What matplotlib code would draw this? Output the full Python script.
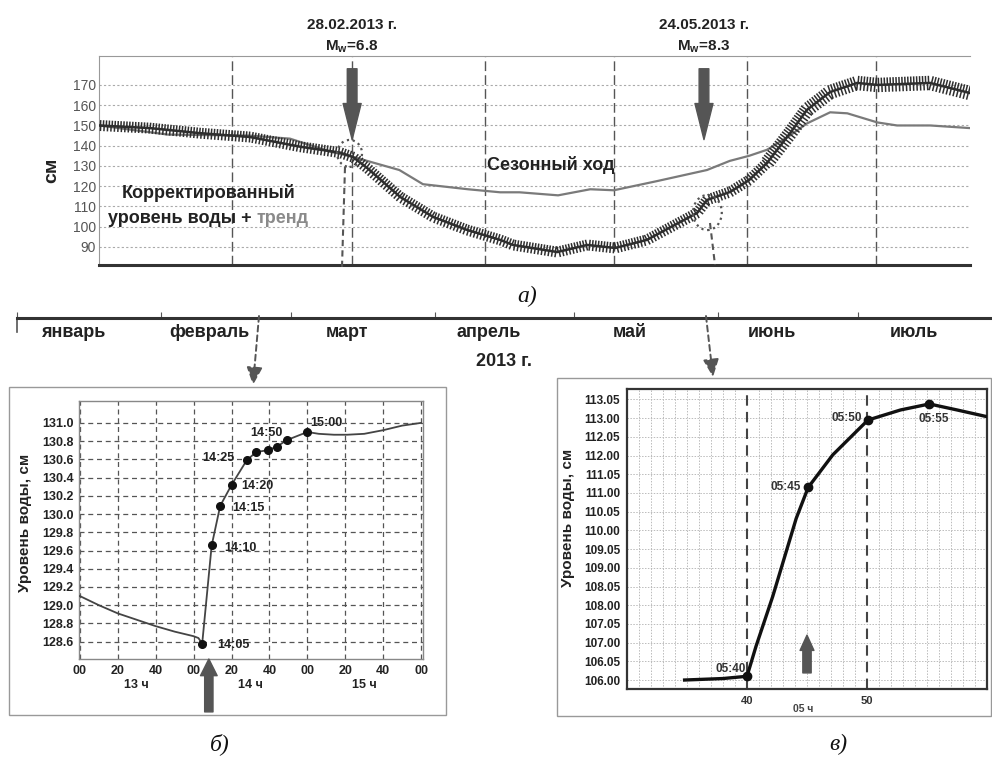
import numpy as np
import matplotlib
matplotlib.use('Agg')
import matplotlib.pyplot as plt
from matplotlib import patheffects as pe
from matplotlib.patches import Ellipse, Rectangle
from matplotlib.transforms import blended_transform_factory

plt.rcParams['font.family'] = ['Liberation Sans', 'DejaVu Sans']

# ---------------- data ----------------
# (а) годовой ход, x = день от 1 января 2013
season_day = [0, 16, 35, 44.5, 54, 59, 70, 75.5, 86, 93.5, 98, 107, 114.5, 120, 130,
              141.7, 147, 151.5, 155.7, 161, 165, 170.4, 174.4, 181.4, 186, 193.7, 203]
season_lvl = [150, 145.5, 145, 143.5, 137, 134.6, 128, 121, 118.5, 117, 117, 115.5, 118.5, 118, 122.5,
              128, 132.5, 135, 138, 145, 151, 156.5, 156, 151.5, 150, 150, 148.7]

corr_day = [0, 11.9, 23.5, 35.2, 46.9, 56.2, 59.2, 62.5, 70.2, 77.9, 85.8, 93.5, 96.5, 106.8,
            113.8, 120.3, 127.7, 139.4, 141.7, 147.1, 151.5, 155.7, 161.1, 165, 170.4, 176.7,
            181.4, 193.7, 203]
corr_lvl = [150, 148.7, 146.2, 144.3, 139.5, 136.6, 134.4, 129, 114.7, 104.8, 98.4, 93.5, 91, 87.5,
            91, 89.5, 93.5, 106.8, 113.2, 117.2, 123, 131.5, 146.3, 157.7, 166.5, 171,
            170, 171, 166]

month_names = ['январь', 'февраль', 'март', 'апрель', 'май', 'июнь', 'июль']
month_start = [0, 31, 59, 90, 120, 151, 181, 212]

events = [(59, '28.02.2013 г.', '6.8'), (141, '24.05.2013 г.', '8.3')]

# (б) 28.02.2013, минуты от 13:00
bl_min = [0, 10, 20, 30, 40, 50, 60, 62.5, 64.5, 69.5, 74, 80, 88, 93, 99, 104, 109, 120,
          126, 134, 141, 150, 160, 170, 180]
bl_lvl = [129.1, 129.0, 128.91, 128.84, 128.77, 128.71, 128.66, 128.64, 128.58, 129.655, 130.09,
          130.32, 130.59, 130.68, 130.70, 130.74, 130.81, 130.90, 130.88, 130.87, 130.87, 130.88,
          130.92, 130.97, 131.0]
bl_marked = [8, 9, 10, 11, 12, 13, 14, 15, 16, 17]
bl_labels = {8: '14:05', 9: '14:10', 10: '14:15', 11: '14:20', 12: '14:25', 16: '14:50', 17: '15:00'}
bl_xticklabels = ['00', '20', '40', '00', '20', '40', '00', '20', '40', '00']
bl_hours = ['13 ч', '14 ч', '15 ч']

# (в) 24.05.2013, минуты после 05:00
br_min = [34.8, 38, 40, 40.75, 42.14, 44.1, 45.1, 47.15, 49.1, 50.08, 52.8, 55.2, 57.5, 60]
br_lvl = [106.0, 106.04, 106.1, 106.9, 108.23, 110.32, 111.15, 112.02, 112.64, 112.95, 113.22,
          113.38, 113.22, 113.04]
br_marked = [2, 6, 9, 11]
br_labels = {2: '05:40', 6: '05:45', 9: '05:50', 11: '05:55'}
br_yticklabels = ['106.00', '106.05', '107.00', '107.05', '108.00', '108.05', '109.00', '109.05',
                  '110.00', '110.05', '111.00', '111.05', '112.00', '112.05', '113.00', '113.05']

# ---------------- layout ----------------
W, H = 992, 758
fig = plt.figure(figsize=(W / 100, H / 100), dpi=100, facecolor='white')


def px_rect(x0, y0, x1, y1):
    return [x0 / W, 1 - y1 / H, (x1 - x0) / W, (y1 - y0) / H]


def tide_band(length, col):
    # приливные колебания рисуются как штрихи вдоль линии
    return [pe.TickedStroke(angle=90, spacing=2.1, length=length, linewidth=1.1, foreground=col),
            pe.TickedStroke(angle=-90, spacing=2.5, length=length * 0.85, linewidth=1.1, foreground=col),
            pe.Normal()]


dark = '#333333'
mid = '#555555'

# ---------------- (а) ----------------
ax = fig.add_axes(px_rect(99, 56, 970, 265))
ax.set_xlim(0, 203)
ax.set_ylim(81.1, 184.3)
ax.set_xticks([])
ax.set_yticks(np.arange(90, 171, 10))
ax.tick_params(axis='y', length=0, pad=2, labelsize=10, labelcolor=mid)
ax.yaxis.grid(True, linestyle=(0, (2, 2)), color='#aaaaaa', lw=0.8)
for d in month_start[1:7]:
    ax.axvline(d, color=mid, lw=1.0, ls=(0, (7, 3)), zorder=1)
ax.spines['right'].set_visible(False)
ax.spines['top'].set_color('#999999')
ax.spines['top'].set_linewidth(0.8)
ax.spines['left'].set_color('#999999')
ax.spines['bottom'].set_color(dark)
ax.spines['bottom'].set_linewidth(2.2)

ax.plot(season_day, season_lvl, color='#7a7a7a', lw=1.6, zorder=3)
tick_col = '#2e2e2e'
split = 21
ax.plot(corr_day[:split + 1], corr_lvl[:split + 1], color=tick_col, lw=1.8, zorder=4,
        path_effects=tide_band(1.6, tick_col))
ax.plot(corr_day[split:], corr_lvl[split:], color=tick_col, lw=1.8, zorder=4,
        path_effects=tide_band(2.2, tick_col))

ax.add_patch(Ellipse((58.4, 136.2), 5.8, 13.3, fill=False, ls=':', lw=1.6, ec=mid, zorder=5))
ax.add_patch(Ellipse((141.8, 107.0), 6.7, 17.3, fill=False, ls=':', lw=1.6, ec=mid, zorder=5))

trans = blended_transform_factory(ax.transData, ax.transAxes)
for day, date, mw in events:
    ax.text(day, 1.148, date, transform=trans, ha='center', va='center',
            fontsize=11, fontweight='bold', color='#222222')
    ax.text(day, 1.043, 'M$_{\\mathregular{w}}$=' + mw, transform=trans, ha='center', va='center',
            fontsize=11, fontweight='bold', color='#222222')
    ax.annotate('', xy=(day, 143), xytext=(day, 178),
                arrowprops=dict(arrowstyle='simple,head_length=26,head_width=13,tail_width=7',
                                mutation_scale=1, fc=mid, ec=mid, shrinkA=0, shrinkB=0), zorder=6)

ax.text(90.5, 130.5, 'Сезонный ход', fontsize=13, fontweight='bold', color='#222222',
        va='center', ha='left', zorder=6)
ax.text(5.4, 116.7, 'Корректированный', fontsize=13, fontweight='bold', color='#222222',
        va='center', ha='left', zorder=6)
t1 = ax.text(2.1, 104.3, 'уровень воды + ', fontsize=13, fontweight='bold', color='#222222',
             va='center', ha='left', zorder=6)
ax.annotate('тренд', xycoords=t1, xy=(1, 0), va='bottom', ha='left', fontsize=13,
            fontweight='bold', color='#8a8a8a', zorder=6)
ax.text(-0.054, 0.455, 'см', transform=ax.transAxes, rotation=90, ha='center', va='center',
        fontsize=14, fontweight='bold', color='#222222')

# ось месяцев
axm = fig.add_axes(px_rect(17, 318, 992, 332))
axm.patch.set_visible(False)
axm.set_xlim(0, 209.9)
axm.set_ylim(0, 1)
axm.set_yticks([])
axm.xaxis.tick_top()
axm.set_xticks(month_start[:7])
axm.tick_params(axis='x', direction='out', length=4, color=mid, labeltop=False)
for s in ['bottom', 'right']:
    axm.spines[s].set_visible(False)
axm.spines['top'].set_linewidth(2.2)
axm.spines['top'].set_color(dark)
axm.spines['left'].set_color(mid)
axm.spines['left'].set_linewidth(1.2)
tm = blended_transform_factory(axm.transData, axm.transAxes)
for i, name in enumerate(month_names):
    centre = (month_start[i] + month_start[i + 1]) / 2 - 3.5
    axm.text(centre, -0.07, name, transform=tm, ha='center', va='center',
             fontsize=13, fontweight='bold', color='#222222')
axm.text(104.8, -2.1, '2013 г.', transform=tm, ha='center', va='center',
         fontsize=13, fontweight='bold', color='#222222')

# ---------------- (б) ----------------
axl = fig.add_axes(px_rect(79, 401, 423, 659))
axl.set_xlim(-0.5, 181)
axl.set_ylim(128.41, 131.24)
axl.set_xticks(np.arange(0, 181, 20))
axl.set_xticklabels(bl_xticklabels)
axl.set_yticks(np.arange(128.6, 131.01, 0.2))
axl.set_yticklabels(['%.1f' % v for v in np.arange(128.6, 131.01, 0.2)])
axl.tick_params(length=0, labelsize=9, labelcolor='#222222', pad=4)
for lab in axl.get_xticklabels() + axl.get_yticklabels():
    lab.set_fontweight('bold')
axl.grid(True, ls=(0, (4, 3)), color=mid, lw=0.9)
for s in axl.spines.values():
    s.set_color('#888888')
    s.set_linewidth(1.0)
axl.plot(bl_min, bl_lvl, color='#444444', lw=1.3, marker='o', ms=5.5,
         mfc='#111111', mec='#111111', markevery=bl_marked, zorder=4)
bl_off = {8: (11, -1, 'left'), 9: (9, -2, 'left'), 10: (9, -1.5, 'left'), 11: (7, -1, 'left'),
          12: (-9, 1.5, 'right'), 16: (-3, 5, 'right'), 17: (2, 6.5, 'left')}
for i, txt in bl_labels.items():
    dx, dy, ha = bl_off[i]
    axl.annotate(txt, xy=(bl_min[i], bl_lvl[i]), xytext=(dx, dy), textcoords='offset points',
                 ha=ha, va='center', fontsize=9, fontweight='bold', color='#222222', zorder=5)
tl = blended_transform_factory(axl.transData, axl.transAxes)
for i, h in enumerate(bl_hours):
    axl.text(30 + 60 * i, -0.10, h, transform=tl, ha='center', va='center',
             fontsize=9, fontweight='bold', color='#222222')
axl.text(-0.157, 0.527, 'Уровень воды, см', transform=axl.transAxes, rotation=90,
         ha='center', va='center', fontsize=11, fontweight='bold', color='#222222')
axl.annotate('', xy=(68, 0), xycoords=tl, xytext=(68, -0.205), textcoords=tl,
             arrowprops=dict(arrowstyle='simple,head_length=12,head_width=12,tail_width=6',
                             mutation_scale=1, fc=mid, ec=mid, shrinkA=0, shrinkB=0),
             annotation_clip=False)

# ---------------- (в) ----------------
axr = fig.add_axes(px_rect(627, 389, 987, 689))
axr.set_xlim(30, 60)
axr.set_ylim(105.76, 113.78)
axr.set_xticks([40, 50])
axr.set_xticks(np.arange(30, 61, 1), minor=True)
axr.set_yticks(np.arange(106, 113.51, 0.5))
axr.set_yticklabels(br_yticklabels)
axr.tick_params(which='both', length=0)
axr.tick_params(axis='y', labelsize=8.5, labelcolor='#222222', pad=5)
axr.tick_params(axis='x', labelsize=8, labelcolor=dark, pad=5)
for lab in axr.get_xticklabels() + axr.get_yticklabels():
    lab.set_fontweight('bold')
axr.xaxis.grid(True, which='minor', ls=(0, (1.5, 1.5)), color='#bbbbbb', lw=0.7)
axr.yaxis.grid(True, which='major', ls=(0, (1.5, 1.5)), color='#bbbbbb', lw=0.7)
for v in [40, 50]:
    axr.axvline(v, color='#444444', lw=1.5, ls=(0, (5, 3)), zorder=2)
for s in axr.spines.values():
    s.set_color(dark)
    s.set_linewidth(1.6)
axr.plot(br_min, br_lvl, color='#111111', lw=2.4, marker='o', ms=6,
         mfc='#111111', mec='#111111', markevery=br_marked, zorder=4)
br_off = {2: (-1, 5, 'right', 'center'), 6: (-5, 0, 'right', 'center'),
          9: (-4, 1.5, 'right', 'center'), 11: (3, -11, 'center', 'center')}
for i, txt in br_labels.items():
    dx, dy, ha, va = br_off[i]
    axr.annotate(txt, xy=(br_min[i], br_lvl[i]), xytext=(dx, dy), textcoords='offset points',
                 ha=ha, va=va, fontsize=8.5, fontweight='bold', color=dark, zorder=5)
axr.text(0.489, -0.067, '05 ч', transform=axr.transAxes, ha='center', va='center',
         fontsize=7.5, fontweight='bold', color='#444444')
axr.text(-0.164, 0.57, 'Уровень воды, см', transform=axr.transAxes, rotation=90,
         ha='center', va='center', fontsize=11, fontweight='bold', color='#222222')
axr.annotate('', xy=(45, 107.2), xytext=(45, 106.19),
             arrowprops=dict(arrowstyle='simple,head_length=11,head_width=10,tail_width=6',
                             mutation_scale=1, fc=mid, ec=mid, shrinkA=0, shrinkB=0))

# ---------------- рамки, стрелки, подписи ----------------
ov = fig.add_axes([0, 0, 1, 1], zorder=10)
ov.set_xlim(0, W)
ov.set_ylim(H, 0)
ov.axis('off')
ov.patch.set_visible(False)

ov.add_patch(Rectangle((9, 387), 437, 328, fill=False, ec='#999999', lw=1.0))
ov.add_patch(Rectangle((557, 378), 434, 338, fill=False, ec='#999999', lw=1.0))

ov.plot([345, 342], [167, 267], color=mid, lw=1.5, ls=(0, (3, 2)))
ov.plot([710, 715], [223, 265], color=mid, lw=1.5, ls=(0, (3, 2)))
for (x0, y0), (x1, y1) in [((259, 316), (253, 385)), ((706, 316), (713, 377))]:
    ov.annotate('', xy=(x1, y1), xytext=(x0, y0),
                arrowprops=dict(arrowstyle='-|>,head_length=0.9,head_width=0.4', mutation_scale=12,
                                ls=(0, (3, 2)), lw=1.4, color=mid, shrinkA=0, shrinkB=0))

for x, y, t in [(527, 296, 'а)'), (220, 744, 'б)'), (838, 744, 'в)')]:
    ov.text(x, y, t, ha='center', va='center', fontsize=17, style='italic',
            family='Liberation Serif', color='#111111')

fig.savefig('out.png', dpi=100, facecolor='white')
